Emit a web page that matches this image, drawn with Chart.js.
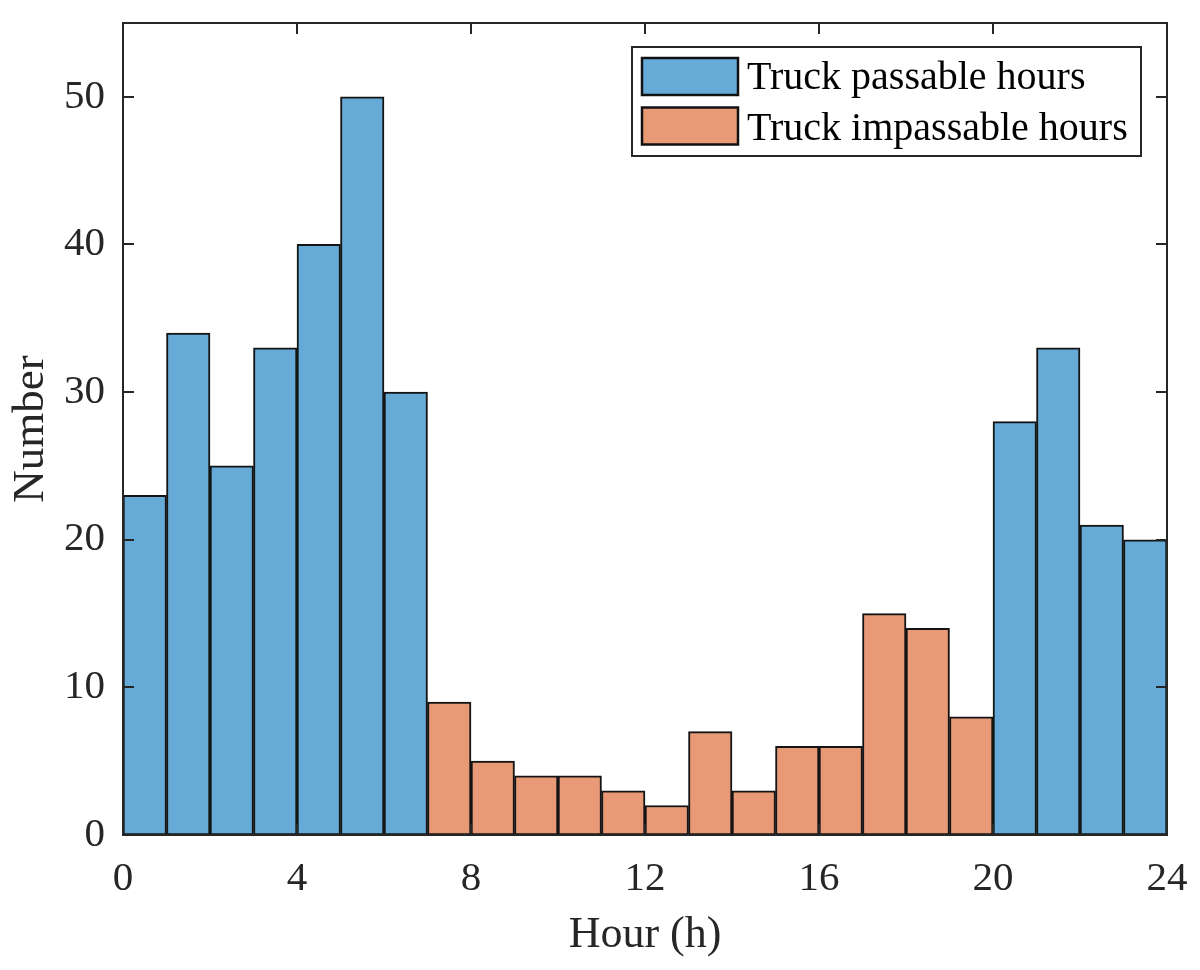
<!DOCTYPE html>
<html>
<head>
<meta charset="utf-8">
<script src="https://cdn.jsdelivr.net/npm/chart.js@4.4.1/dist/chart.umd.min.js"></script>
<style>
  html, body { margin: 0; padding: 0; background: #fff; }
  canvas { display: block; }
</style>
</head>
<body>
<canvas id="chart" width="1200" height="970"></canvas>
<script>
// histogram bins (start hour of each 1 h bin)
const hourBins = [0, 1, 2, 3, 4, 5, 6, 7, 8, 9, 10, 11, 12, 13, 14, 15, 16, 17, 18, 19, 20, 21, 22, 23];
const passable = [23, 34, 25, 33, 40, 50, 30, null, null, null, null, null, null, null, null, null, null, null, null, null, 28, 33, 21, 20];
const impassable = [null, null, null, null, null, null, null, 9, 5, 4, 4, 3, 2, 7, 3, 6, 6, 15, 14, 8, null, null, null, null];
const seriesNames = ['Truck passable hours', 'Truck impassable hours'];
const xTicks = [0, 4, 8, 12, 16, 20, 24];
const yTicks = [0, 10, 20, 30, 40, 50];

const FONT = '"Liberation Serif", "Times New Roman", serif';
const INK = '#262626';

const toPoints = (vals) => hourBins
  .map((h, i) => ({ x: h + 0.5, y: vals[i] }))
  .filter(p => p.y !== null);

// frame with inward ticks on all four sides + legend box
const boxPlugin = {
  id: 'box',
  afterDatasetsDraw(chart) {
    const { ctx, chartArea: a, scales } = chart;
    const tl = 11;
    ctx.save();
    ctx.strokeStyle = INK;
    ctx.lineWidth = 2;
    ctx.beginPath();
    xTicks.forEach(v => {
      const px = Math.round(scales.x.getPixelForValue(v));
      ctx.moveTo(px, a.bottom); ctx.lineTo(px, a.bottom - tl);
      ctx.moveTo(px, a.top); ctx.lineTo(px, a.top + tl);
    });
    yTicks.forEach(v => {
      const py = Math.round(scales.y.getPixelForValue(v));
      ctx.moveTo(a.left, py); ctx.lineTo(a.left + tl, py);
      ctx.moveTo(a.right, py); ctx.lineTo(a.right - tl, py);
    });
    ctx.stroke();
    ctx.strokeRect(a.left, a.top, a.right - a.left, a.bottom - a.top);

    // legend
    const lx = 632, ly = 47, lw = 509, lh = 109;
    ctx.fillStyle = '#fff';
    ctx.fillRect(lx, ly, lw, lh);
    ctx.lineWidth = 2;
    ctx.strokeStyle = INK;
    ctx.strokeRect(lx, ly, lw, lh);
    ctx.font = '40px ' + FONT;
    ctx.textBaseline = 'alphabetic';
    chart.data.datasets.forEach((ds, i) => {
      const sy = ly + 11 + i * 49.5;
      ctx.fillStyle = ds.backgroundColor;
      ctx.fillRect(642, sy, 96, 37);
      ctx.lineWidth = 2.5;
      ctx.strokeStyle = '#111';
      ctx.strokeRect(642, sy, 96, 37);
      ctx.fillStyle = '#000';
      ctx.fillText(ds.label, 747, 89 + i * 51);
    });
    ctx.restore();
  }
};

new Chart(document.getElementById('chart'), {
  type: 'bar',
  data: {
    datasets: [
      {
        label: seriesNames[0],
        data: toPoints(passable),
        backgroundColor: '#66AAD7',
        borderColor: '#141414',
        borderWidth: 2,
        borderSkipped: false,
        barPercentage: 1,
        categoryPercentage: 1
      },
      {
        label: seriesNames[1],
        data: toPoints(impassable),
        backgroundColor: '#E89A76',
        borderColor: '#141414',
        borderWidth: 2,
        borderSkipped: false,
        barPercentage: 1,
        categoryPercentage: 1
      }
    ]
  },
  options: {
    responsive: false,
    animation: false,
    devicePixelRatio: 1,
    layout: { padding: { top: 23, right: 33, left: 0, bottom: 0 } },
    plugins: {
      legend: { display: false },
      tooltip: { enabled: false }
    },
    scales: {
      x: {
        type: 'linear',
        stacked: true,
        min: 0,
        max: 24,
        offset: false,
        afterBuildTicks: (s) => { s.ticks = xTicks.map(v => ({ value: v })); },
        afterFit: (s) => { s.height = 135; s.paddingLeft = 0; s.paddingRight = 0; },
        grid: { display: false, drawTicks: false },
        border: { display: false },
        ticks: {
          color: INK,
          padding: 20,
          maxRotation: 0,
          font: { family: FONT, size: 41 }
        },
        title: {
          display: true,
          text: 'Hour (h)',
          color: INK,
          font: { family: FONT, size: 44 },
          padding: { top: 0, bottom: 8 }
        }
      },
      y: {
        stacked: true,
        min: 0,
        max: 55,
        afterBuildTicks: (s) => { s.ticks = yTicks.map(v => ({ value: v })); },
        afterFit: (s) => { s.width = 123; s.paddingTop = 0; s.paddingBottom = 0; },
        grid: { display: false, drawTicks: false },
        border: { display: false },
        ticks: {
          color: INK,
          padding: 18,
          font: { family: FONT, size: 41 }
        },
        title: {
          display: true,
          text: 'Number',
          color: INK,
          font: { family: FONT, size: 45 },
          padding: { top: 4, bottom: 0 }
        }
      }
    }
  },
  plugins: [boxPlugin]
});
</script>
</body>
</html>
